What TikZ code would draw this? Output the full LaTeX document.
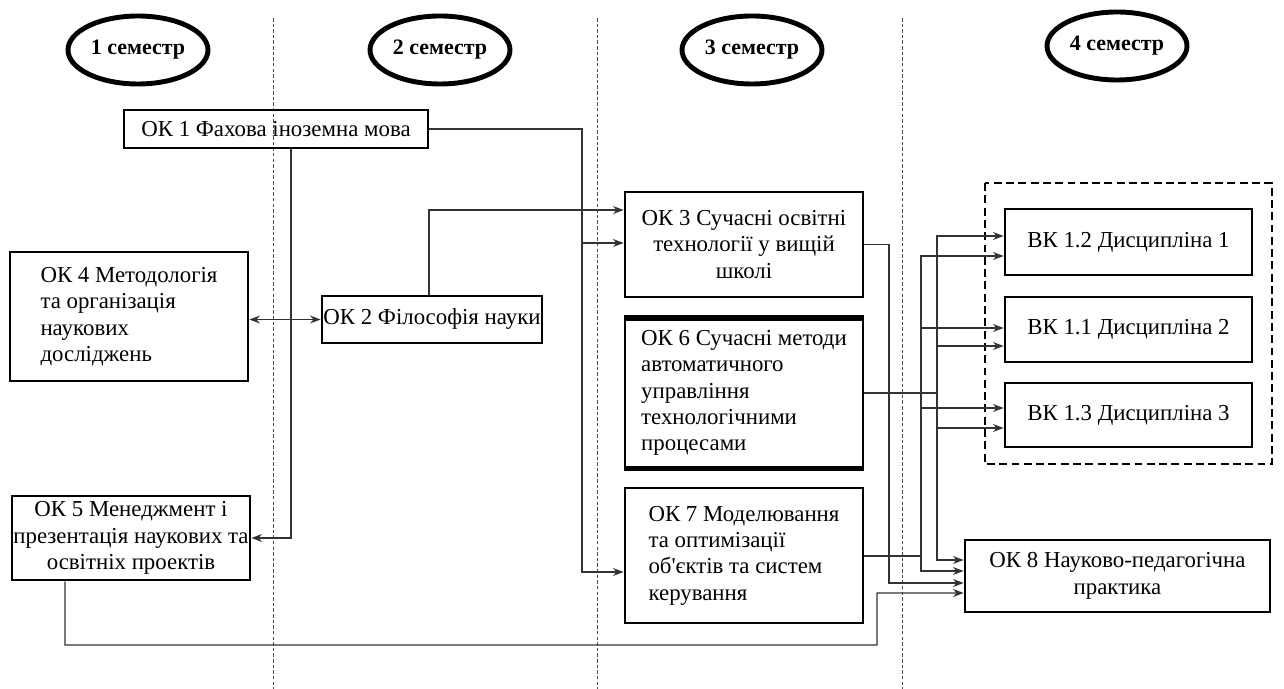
\documentclass[tikz,border=0pt]{standalone}
\usepackage{fontspec}
\setmainfont{Liberation Serif}
\usepackage{tikz}
\usetikzlibrary{arrows.meta,shapes.geometric}

\tikzset{
  sem/.style={ellipse,draw,line width=2.8pt,minimum width=2.8cm,minimum height=1.36cm,font=\fontsize{12.5}{14}\selectfont\bfseries,inner sep=0pt},
  disc/.style={rectangle,draw,line width=1.6pt,inner sep=0pt,font=\fontsize{13}{15}\selectfont},
  link/.style={-{Stealth[length=6pt,width=4.5pt]},line width=0.7pt,black!80},
  border/.style={black!70,line width=0.5pt,dash pattern=on 2pt off 1.2pt}
}

\begin{document}
\begin{tikzpicture}
\useasboundingbox (0cm,0cm) rectangle (25.68cm,-13.78cm);

% semester borders
\draw [border] (5.46cm,-0.36cm) -- (5.46cm,-13.78cm);
\draw [border] (11.94cm,-0.36cm) -- (11.94cm,-13.78cm);
\draw [border] (18.04cm,-0.36cm) -- (18.04cm,-13.78cm);

\node [sem] (sem1) at (2.76cm,-1.0cm) {1 семестр};
\node [sem] (sem2) at (8.8cm,-1.0cm) {2 семестр};
\node [sem] (sem3) at (15.04cm,-1.0cm) {3 семестр};
\node [sem] (sem4) at (22.34cm,-0.92cm) {4 семестр};

% disciplines
\node [disc,minimum width=6.08cm,minimum height=0.76cm] (ok1) at (5.52cm,-2.58cm) {ОК 1 Фахова іноземна мова};
\node [disc,minimum width=4.76cm,minimum height=2.58cm,align=left] (ok4) at (2.58cm,-6.33cm) {ОК 4 Методологія\\ та організація\\ наукових\\ досліджень};
\node [disc,minimum width=4.4cm,minimum height=0.94cm] (ok2) at (8.64cm,-6.39cm) {ОК 2 Філософія науки};
\node [disc,minimum width=4.76cm,minimum height=1.68cm,align=center] (ok5) at (2.62cm,-10.76cm) {ОК 5 Менеджмент і\\ презентація наукових та\\ освітніх проектів};
\node [disc,minimum width=4.76cm,minimum height=2.1cm,align=center] (ok3) at (14.88cm,-4.89cm) {ОК 3 Сучасні освітні\\ технології у вищій\\ школі};
\node [disc,minimum width=4.76cm,minimum height=3.0cm,align=left] (ok6) at (14.88cm,-7.86cm) {ОК 6 Сучасні методи\\ автоматичного\\ управління\\ технологічними\\ процесами};
\draw [line width=3.4pt] ([yshift=-1.0pt]ok6.north west) -- ([yshift=-1.0pt]ok6.north east);
\draw [line width=2.6pt] ([yshift=0.6pt]ok6.south west) -- ([yshift=0.6pt]ok6.south east);
\node [disc,minimum width=4.76cm,minimum height=2.7cm,align=left] (ok7) at (14.88cm,-11.11cm) {ОК 7 Моделювання\\ та оптимізації\\ об\textquotesingle єктів та систем\\ керування};

\draw [line width=1.4pt,dash pattern=on 4.5pt off 2.5pt] (19.7cm,-3.66cm) rectangle (25.44cm,-9.28cm);
\node [disc,minimum width=4.94cm,minimum height=1.32cm] (vk12) at (22.57cm,-4.84cm) {ВК 1.2 Дисципліна 1};
\node [disc,minimum width=4.94cm,minimum height=1.3cm] (vk11) at (22.57cm,-6.59cm) {ВК 1.1 Дисципліна 2};
\node [disc,minimum width=4.94cm,minimum height=1.28cm] (vk13) at (22.57cm,-8.30cm) {ВК 1.3 Дисципліна 3};
\node [disc,minimum width=6.1cm,minimum height=1.44cm,align=center] (ok8) at (22.35cm,-11.52cm) {ОК 8 Науково-педагогічна\\ практика};

% links
\coordinate (s3) at (11.64cm,-4.86cm);
\draw [link] (ok1.east) -| (s3) -- (ok3.west |- s3);
\draw [link] (s3) |- ([yshift=-0.33cm]ok7.west);
\draw [link] ([xshift=0.3cm]ok1.south) |- (ok5.east);
\draw [link] ([xshift=-0.06cm]ok2.north) |- ([yshift=0.69cm]ok3.west);
\draw [link,{Stealth[length=6pt,width=4.5pt]}-{Stealth[length=6pt,width=4.5pt]}] (ok4.east |- ok2.west) -- (ok2.west);
\draw [link] ([xshift=-1.32cm]ok5.south) -- (1.3cm,-12.9cm) -| (17.54cm,-11.86cm) -- ([yshift=-0.34cm]ok8.west);
\draw [link] (ok3.east) -| (17.78cm,-11.66cm) -- ([yshift=-0.14cm]ok8.west);

\coordinate (b7) at (18.42cm,-11.12cm);
\draw [line width=0.7pt,black!80] (ok7.east |- b7) -- (b7);
\draw [link] (b7) |- ([yshift=-0.28cm]vk12.west);
\draw [link] (b7) |- ([yshift=0.03cm]vk11.west);
\draw [link] (b7) |- ([yshift=0.14cm]vk13.west);
\draw [link] (b7) |- ([yshift=0.1cm]ok8.west);

\coordinate (b6) at (18.74cm,-7.86cm);
\draw [line width=0.7pt,black!80] (ok6.east) -- (b6);
\draw [link] (b6) |- ([yshift=0.12cm]vk12.west);
\draw [link] (b6) |- ([yshift=-0.33cm]vk11.west);
\draw [link] (b6) |- ([yshift=-0.26cm]vk13.west);
\draw [link] (b6) |- ([yshift=0.32cm]ok8.west);

\end{tikzpicture}
\end{document}
